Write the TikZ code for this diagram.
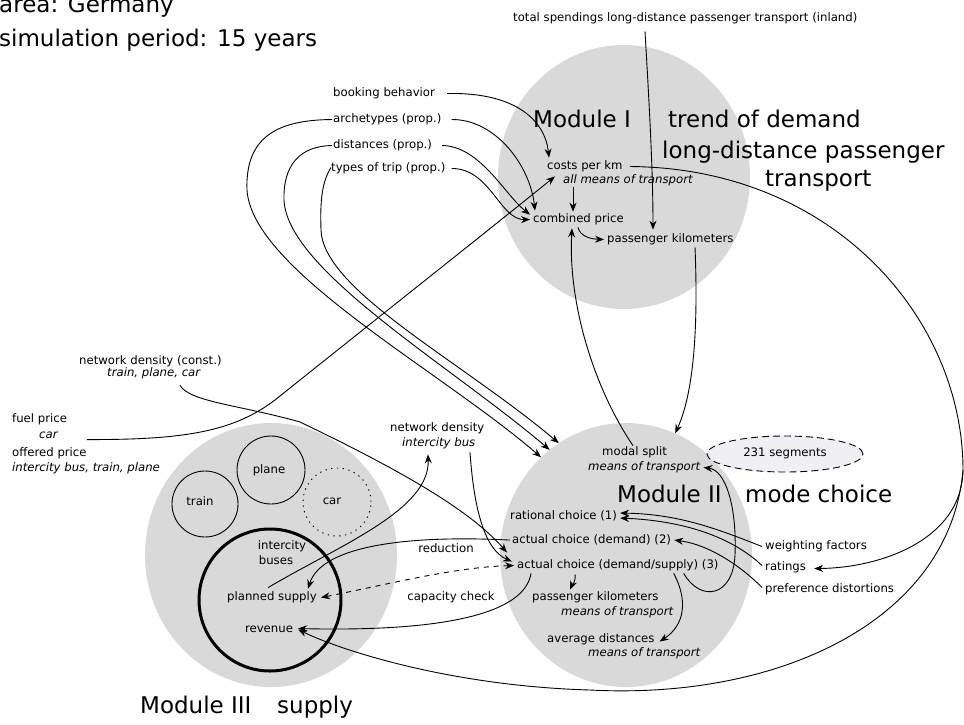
\documentclass[tikz,border=0pt]{standalone}
\usepackage{fontspec}
\setmainfont{DejaVu Sans}
\usetikzlibrary{arrows.meta,shapes.geometric,calc}
\definecolor{modgray}{HTML}{D9D9D9}
\definecolor{seggray}{HTML}{F0F0F4}
\begin{document}
\begin{tikzpicture}[x=1pt,y=-1pt,
  sm/.style={font=\fontsize{11.7}{14}\selectfont, inner sep=0pt, anchor=mid},
  smw/.style={sm, anchor=mid west},
  itw/.style={smw, font=\fontsize{11.7}{14}\selectfont\itshape},
  big/.style={font=\fontsize{23}{27}\selectfont, inner sep=0pt, anchor=base west},
  modcirc/.style={ellipse, fill=modgray, minimum width=252pt, minimum height=264pt, inner sep=0pt},
  subcirc/.style={circle, draw, line width=0.9pt, inner sep=0pt},
  conn/.style={line width=0.9pt},
  arr/.style={conn, -{Stealth[length=9pt,width=7pt,inset=3pt]}},
  darr/.style={conn, {Stealth[length=9pt,width=7pt,inset=3pt]}-{Stealth[length=9pt,width=7pt,inset=3pt]}, dash pattern=on 5pt off 5pt},
]
\useasboundingbox (0,0) rectangle (964,724);

% module circles
\node[modcirc] (mod1) at (624,177) {};
\node[modcirc] (mod2) at (626,555) {};
\node[modcirc] (mod3) at (271,555) {};

% sub circles of module III
\node[subcirc, minimum size=66pt] (trainc) at (205,504) {};
\node[subcirc, minimum size=68pt] (planec) at (271,470) {};
\node[subcirc, minimum size=68pt, dash pattern=on 1.3pt off 4.5pt] (carc) at (337,502) {};
\node[subcirc, minimum size=142pt, line width=3pt] (busc) at (270,600) {};

% segments ellipse
\node[ellipse, draw, fill=seggray, line width=0.9pt, dash pattern=on 7pt off 4pt,
      minimum width=156pt, minimum height=36pt, inner sep=0pt] (seg) at (785,454) {};
\node[sm] (segtxt) at (785,454) {231 segments};

% big texts
\node[big] (area) at (-1,12) {area: Germany};
\node[big] (sim) at (-1,46) {simulation period: 15 years};
\node[big] (m1) at (533,127) {Module I};
\node[big] (trend) at (668,127) {trend of demand};
\node[big] (ld) at (662,158) {long-distance passenger};
\node[big] (tr) at (765,186) {transport};
\node[big] (m2) at (617,502) {Module II};
\node[big] (mc) at (745,502) {mode choice};
\node[big] (m3) at (140,713) {Module III};
\node[big] (sup) at (277,713) {supply};

% small texts
\node[smw] (total) at (513,19) {total spendings long-distance passenger transport (inland)};
\node[smw] (booking) at (333,94) {booking behavior};
\node[smw] (arch) at (333,120) {archetypes (prop.)};
\node[smw] (dist) at (333,146) {distances (prop.)};
\node[smw] (types) at (331,169) {types of trip (prop.)};
\node[smw] (costs) at (547,167) {costs per km};
\node[itw] (allm) at (563,181) {all means of transport};
\node[smw] (combined) at (533,220) {combined price};
\node[smw] (pkm1) at (607,240) {passenger kilometers};

\node[smw] (netc) at (79,362) {network density (const.)};
\node[itw] (netcb) at (107,374) {train, plane, car};
\node[smw] (fuel) at (12,420) {fuel price};
\node[itw] (fuelcar) at (39,436) {car};
\node[smw] (offered) at (12,454) {offered price};
\node[itw] (offeredb) at (12,469) {intercity bus, train, plane};
\node[smw] (netb) at (390,429) {network density};
\node[itw] (netbb) at (402,444) {intercity bus};

\node[sm] (train) at (200,503) {train};
\node[sm] (plane) at (269,471) {plane};
\node[sm] (car) at (332,502) {car};
\node[sm] (intercity) at (282,547) {intercity};
\node[sm] (buses) at (276,562) {buses};
\node[sm] (planned) at (272,598) {planned supply};
\node[sm] (revenue) at (269,630) {revenue};
\node[sm] (reduction) at (446,550) {reduction};
\node[sm] (capacity) at (451,598) {capacity check};

\node[smw] (modal) at (602,453) {modal split};
\node[itw] (modalb) at (588,468) {means of transport};
\node[smw] (rat1) at (510,517) {rational choice (1)};
\node[smw] (act2) at (512,541) {actual choice (demand) (2)};
\node[smw] (act3) at (517,566) {actual choice (demand/supply) (3)};
\node[smw] (pkm2) at (532,598) {passenger kilometers};
\node[itw] (pkm2b) at (561,613) {means of transport};
\node[smw] (avg) at (547,640) {average distances};
\node[itw] (avgb) at (588,654) {means of transport};
\node[smw] (weight) at (765,547) {weighting factors};
\node[smw] (ratings) at (765,568) {ratings};
\node[smw] (pref) at (765,590) {preference distortions};

\coordinate (split) at (963,470);
\coordinate (via23) at (300,422);
\coordinate (via24) at (275,400);

% Module I connectors
\draw[arr] ($(booking.east)+(12,0)$) .. controls (515,92) and (545,120) .. ($(costs.north west)+(2,-3)$);
\draw[arr] ($(arch.east)+(10,0)$) .. controls (495,119) and (530,165) .. ($(combined.north west)+(2,-3)$);
\draw[arr] ($(dist.east)+(10,0)$) .. controls (480,146) and (505,195) .. ($(combined.north west)+(-3,1)$);
\draw[arr] ($(types.east)+(6,0)$) .. controls (490,168) and (500,220) .. ($(combined.west)+(-3,0)$);
\draw[arr] ($(allm.south west)+(10,1)$) -- ($(combined.north west)+(40,-2)$);
\draw[arr] ($(combined.south west)+(45,2)$) .. controls (580,236) and (590,239) .. ($(pkm1.west)+(-3,0)$);
\draw[arr] ($(total.south west)+(132,7)$) .. controls (649,100) and (653,170) .. ($(pkm1.north west)+(46,-4)$);
\draw[arr] ($(modal.north west)+(31,-1)$) .. controls (592,385) and (568,300) .. ($(combined.south west)+(39,3)$);
\draw[arr] ($(pkm1.south west)+(88,2)$) .. controls (698,320) and (695,390) .. (mod2.68);

% long loops from Module I inputs to Module II
\draw[arr] ($(arch.west)+(-1,0)$) .. controls (280,120) and (245,135) .. (247,190) .. controls (252,270) and (440,370) .. (mod2.131);
\draw[arr] ($(dist.west)+(-1,0)$) .. controls (300,146) and (283,165) .. (284,200) .. controls (287,270) and (450,365) .. (mod2.126);
\draw[arr] ($(types.west)+(0,-1)$) .. controls (322,182) and (320,200) .. (321,230) .. controls (323,290) and (460,360) .. (mod2.121);

% fuel price -> costs per km
\draw[arr] ($(fuelcar.east)+(29,4)$) .. controls (190,440) and (235,430) .. (via24) .. controls (380,316) and (480,237) .. ($(costs.south west)+(8,4)$);

% costs per km -> ratings, and long curve to revenue
\draw[arr] ($(costs.east)+(7,0)$) .. controls (835,168) and (963,320) .. (split) .. controls (962,540) and (880,568) .. ($(ratings.east)+(8,1)$);
\draw[arr] (split) .. controls (950,620) and (780,700) .. (590,690) .. controls (450,686) and (340,650) .. ($(revenue.east)+(5,0)$);

% Module II connectors
\draw[arr] ($(weight.west)+(-3,0)$) .. controls (720,530) and (680,514) .. ($(rat1.east)+(3,-3)$);
\draw[arr] ($(ratings.west)+(-3,-2)$) .. controls (735,540) and (690,521) .. ($(rat1.east)+(3,2)$);
\draw[arr] ($(pref.west)+(-3,-2)$) .. controls (745,570) and (712,545) .. ($(act2.east)+(3,0)$);
\draw[arr] ($(act3.south east)+(-35,2)$) .. controls (700,602) and (733,598) .. (735,555) .. controls (737,505) and (725,470) .. ($(modalb.east)+(3,0)$);
\draw[arr] ($(act3.south west)+(58,3)$) .. controls (576,582) and (572,585) .. ($(pkm2.north west)+(38,-2)$);
\draw[arr] ($(act3.south east)+(-45,2)$) .. controls (688,600) and (685,625) .. ($(avg.east)+(5,2)$);
\draw[arr] ($(act3.south west)+(14,2)$) .. controls (525,612) and (450,632) .. ($(revenue.east)+(5,-1)$);
\draw[arr] ($(act2.west)+(-2,0)$) .. controls (410,535) and (322,545) .. ($(planned.north east)+(-9,-3)$);
\draw[darr] ($(planned.east)+(4,0)$) .. controls (385,585) and (455,567) .. ($(act3.west)+(-3,0)$);
\draw[arr] ($(netbb.south west)+(68,3)$) .. controls (474,510) and (485,550) .. ($(act3.west)+(-5,-4)$);
\draw[arr] ($(planned.north)+(-4,-4)$) .. controls (340,545) and (430,510) .. ($(netbb.south west)+(26,5)$);
\draw[arr] ($(netcb.south west)+(73,6)$) .. controls (190,402) and (240,405) .. (via23) .. controls (400,470) and (470,510) .. ($(act3.west)+(-10,-13)$);
\end{tikzpicture}
\end{document}
